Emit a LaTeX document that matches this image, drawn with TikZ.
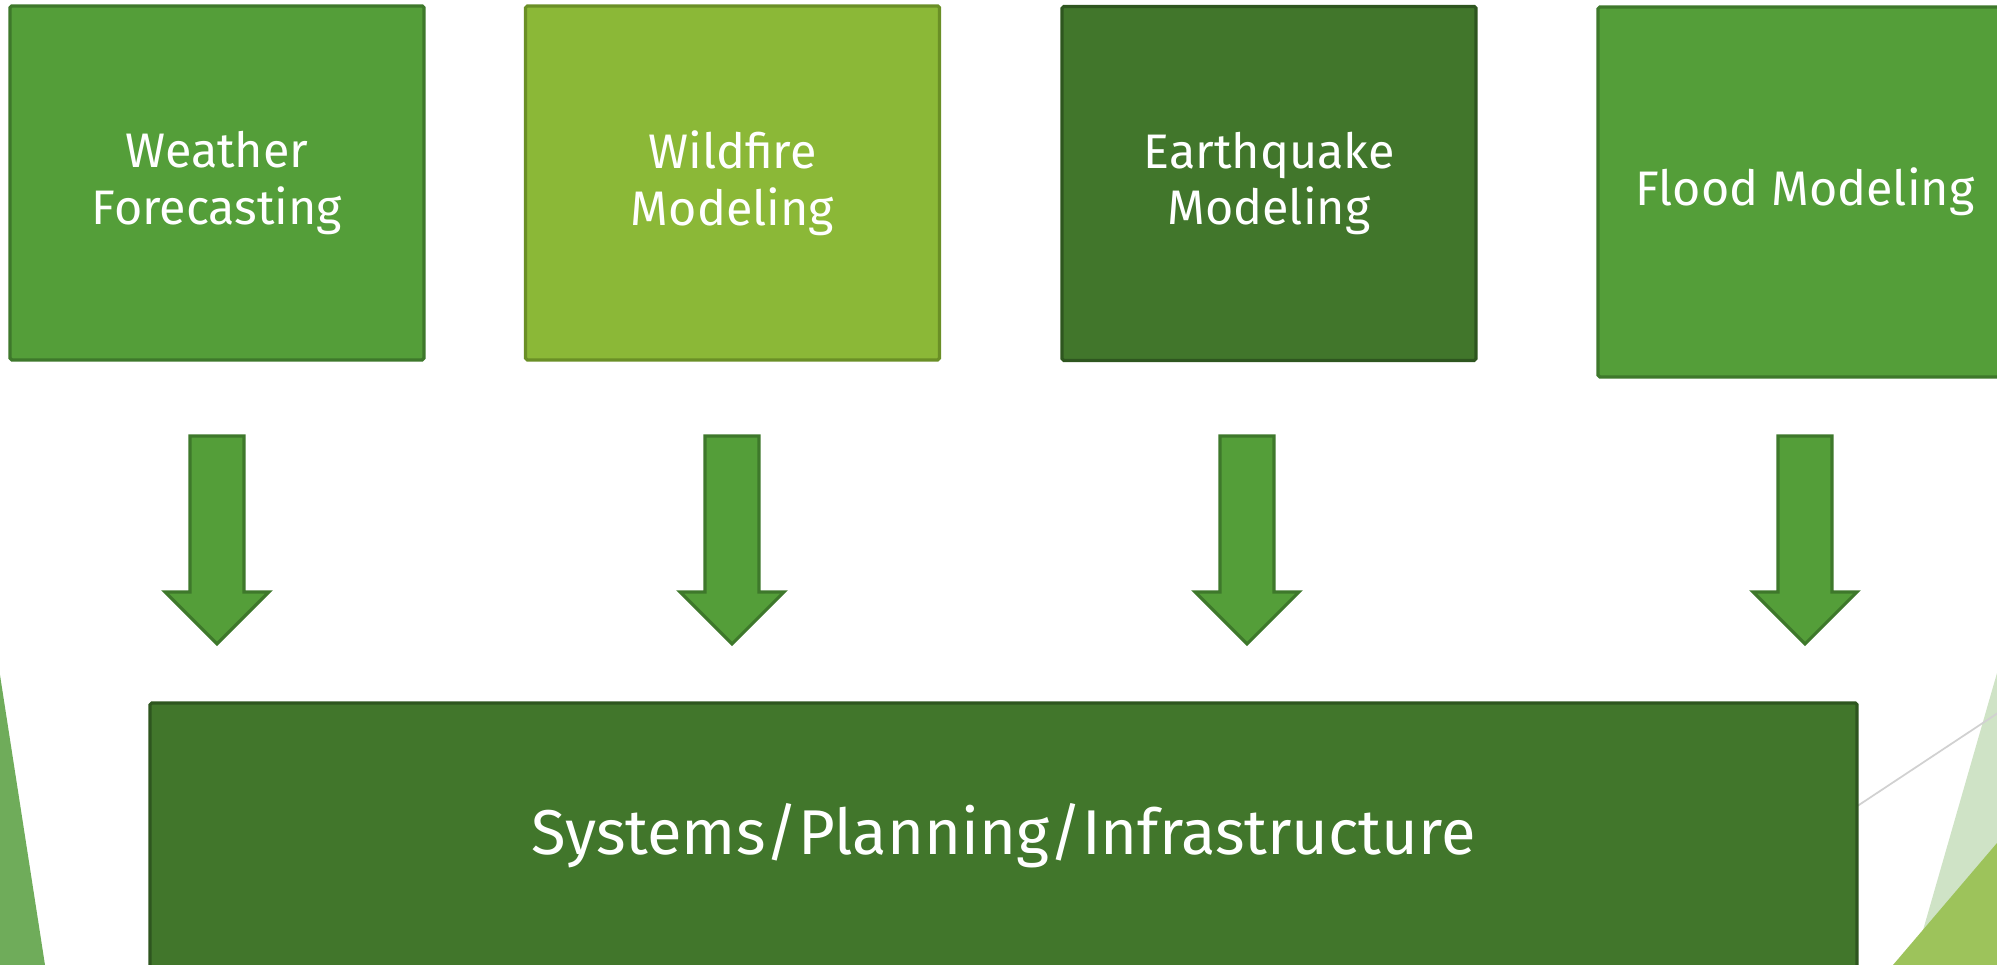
\documentclass[tikz,border=0pt]{standalone}
\usepackage{fontspec}
\setsansfont{Fira Sans}
\definecolor{midgreen}{RGB}{84,158,57}
\definecolor{midgreenline}{RGB}{62,120,43}
\definecolor{lightgreen}{RGB}{139,184,55}
\definecolor{lightgreenline}{RGB}{106,143,38}
\definecolor{darkgreen}{RGB}{65,118,43}
\definecolor{darkgreenline}{RGB}{46,86,31}
\definecolor{sidegreen}{RGB}{111,172,90}
\definecolor{palegreen}{RGB}{207,227,198}
\definecolor{limegreen}{RGB}{157,195,91}
\tikzset{every picture/.style={/utils/exec={\sffamily}}}
\tikzset{
  modelbox/.style={draw, line width=0.9pt, rounded corners=0.5pt, inner sep=0pt, align=center,
    text=white, minimum width=4.14cm, minimum height=3.54cm, font=\fontsize{13.8}{16.2}\selectfont},
  blockarrow/.style={draw=midgreenline, fill=midgreen, line width=0.9pt}
}
\usetikzlibrary{calc}
\usetikzlibrary{positioning}

\begin{document}
\begin{tikzpicture}
  \useasboundingbox (0,0) rectangle (19.97,9.65);
  \clip (0,0) rectangle (19.97,9.65);

  % corner shapes
  \fill [sidegreen] (-0.1,3.52) -- (0,2.90) -- (0.45,0) -- (-0.1,0) -- cycle;
  \fill [palegreen] (19.97,2.92) -- (19.13,0) -- (20.1,0) -- (20.1,2.92) -- cycle;
  \fill [limegreen] (19.97,1.22) -- (18.93,0) -- (20.1,0) -- (20.1,1.22) -- cycle;
  \draw [black!18, line width=0.5pt] (18.0,1.21) -- (20.1,2.60);

  \node [modelbox, fill=midgreen, draw=midgreenline] (weather) at (2.17,7.82) {Weather\\Forecasting};
  \node [modelbox, fill=lightgreen, draw=lightgreenline] (wildfire) at (7.325,7.82) {Wildfire\\Modeling};
  \node [modelbox, fill=darkgreen, draw=darkgreenline] (quake) at (12.69,7.815) {Earthquake\\Modeling};
  \node [modelbox, fill=midgreen, draw=midgreenline, minimum height=3.70cm] (flood) at (18.05,7.73) {Flood Modeling};

  \foreach \x [count=\i] in {2.17,7.32,12.47,18.05} {
    \draw [blockarrow] (\x-0.27,5.29) -- (\x+0.27,5.29) -- (\x+0.27,3.73) -- (\x+0.52,3.73)
      -- (\x,3.21) -- (\x-0.52,3.73) -- (\x-0.27,3.73) -- cycle;
  }

  \node [draw=darkgreenline, fill=darkgreen, line width=0.9pt, rounded corners=0.5pt, text=white,
    minimum width=17.07cm, minimum height=2.66cm, font=\fontsize{18}{22}\selectfont] (systems) at (10.035,1.29) {Systems/Planning/Infrastructure};

\end{tikzpicture}
\end{document}
